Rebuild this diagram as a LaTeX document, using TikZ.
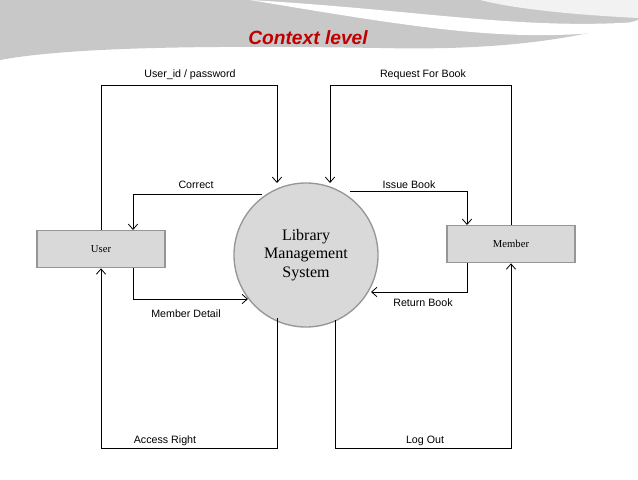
\documentclass[tikz,border=0pt]{standalone}
\usepackage{fontspec}
\setsansfont{Liberation Sans}
\setmainfont{Liberation Serif}
\usetikzlibrary{arrows.meta}
\definecolor{boxgray}{RGB}{217,217,217}
\definecolor{edgegray}{RGB}{150,150,150}
\definecolor{swoosh}{RGB}{200,200,200}
\definecolor{titlered}{RGB}{192,0,0}
\tikzset{
  flow/.style={draw=black, line width=0.6pt, -{Straight Barb[length=4pt,width=7pt]}},
  entity/.style={draw=edgegray, line width=1pt, fill=boxgray, minimum width=96pt, minimum height=28pt, font=\footnotesize},
  proc/.style={circle, draw=edgegray, line width=1pt, fill=boxgray, minimum size=108pt, align=center, font=\large},
  lbl/.style={font=\sffamily\footnotesize}
}
\begin{document}
\begin{tikzpicture}[x=0.75pt,y=-0.75pt]
    \useasboundingbox (0,0) rectangle (638,479);
    % background swoosh
    \fill[swoosh] (0,0) -- (638,0) -- (638,20) .. controls (560,45) and (470,50) .. (380,48)
      .. controls (250,46) and (80,45) .. (0,60) -- cycle;
    \fill[white] (250,0) .. controls (420,10) and (520,30) .. (638,22) -- (638,28)
      .. controls (520,45) and (430,30) .. (250,0) -- cycle;
    \fill[white!90!gray] (480,0) -- (638,0) -- (638,18) .. controls (580,15) and (520,10) .. (480,0) -- cycle;

    % title
    \node[font=\sffamily\bfseries\itshape\Large, text=titlered] (title) at (308,38) {Context level};

    % nodes
    \node[proc] (lms) at (306,255) {Library\\Management\\System};
    \node[entity] (user) at (101,249) {User};
    \node[entity] (member) at (511,244) {Member};

    % coordinates on the circle
    \coordinate (c1) at (277,183);
    \coordinate (c2) at (330,183);
    \coordinate (c3) at (262,194);
    \coordinate (c4) at (350,191);
    \coordinate (c5) at (248,299);
    \coordinate (c6) at (371,292);
    \coordinate (c7) at (277,318);
    \coordinate (c8) at (335,320);

    % user side
    \draw[flow] (user.north) -- (101,85) -| (c1);
    \draw[flow] (c3) -| (133,230);
    \draw[flow] (133,268) |- (c5);
    \draw[flow] (c7) |- (101,448) -- (user.south);

    % member side
    \draw[flow] (member.north) -- (511,85) -| (c2);
    \draw[flow] (c4) -| (467,225);
    \draw[flow] (467,263) |- (c6);
    \draw[flow] (c8) |- (511,448) -- (member.south);

    % labels
    \node[lbl] (l1) at (190,75) {User\_id / password};
    \node[lbl] (l2) at (196,185) {Correct};
    \node[lbl] (l3) at (186,314) {Member Detail};
    \node[lbl] (l4) at (165,441) {Access Right};
    \node[lbl] (l5) at (423,75) {Request For Book};
    \node[lbl] (l6) at (409,185) {Issue Book};
    \node[lbl] (l7) at (423,303) {Return Book};
    \node[lbl] (l8) at (425,441) {Log Out};
\end{tikzpicture}
\end{document}
